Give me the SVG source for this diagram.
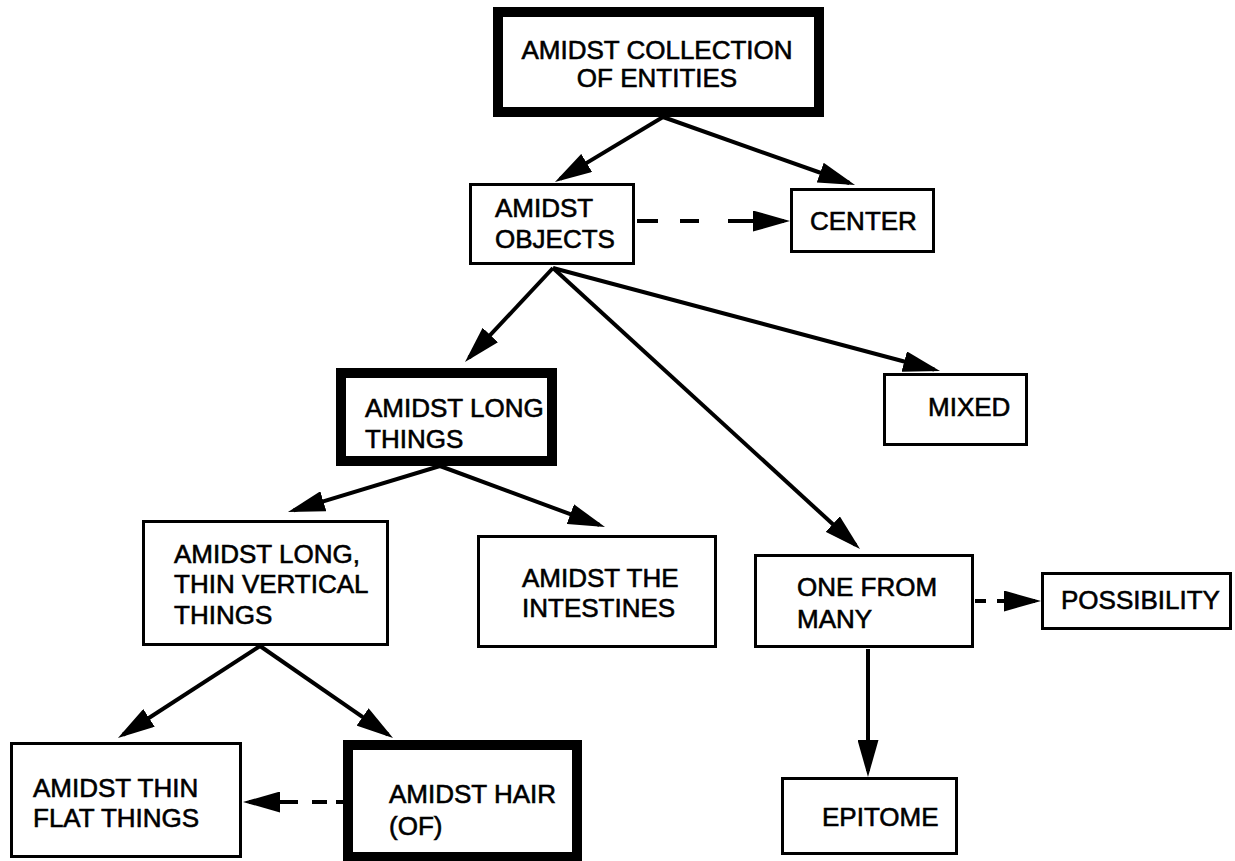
<svg xmlns="http://www.w3.org/2000/svg" width="1235" height="861" viewBox="0 0 1235 861">
<style>
  .box { fill: #fff; stroke: #000; stroke-width: 3; }
  .thick { fill: #fff; stroke: #000; stroke-width: 10; }
  .lbl { font-family: "Liberation Sans", Arial, Helvetica, sans-serif; font-size: 26px; fill: #000; stroke: #000; stroke-width: 0.6; }
  .mid { text-anchor: middle; }
  .edge { fill: none; stroke: #000; stroke-width: 4; marker-end: url(#arrow); }
</style>
<defs>
  <marker id="arrow" viewBox="0 0 37 21" refX="31" refY="10.5" markerWidth="37" markerHeight="21" markerUnits="userSpaceOnUse" orient="auto">
    <path d="M0,0 L37,10.5 L0,21 Z" fill="#000"/>
  </marker>
</defs>
<rect width="1235" height="861" fill="#fff"/>

<g id="connectors">
  <path class="edge" d="M663,117 L560.1,178.9"/>
  <path class="edge" d="M663,117 L849.4,183"/>
  <path class="edge" d="M637,221 H658 M680,221 H699 M728,221 H784"/>
  <path class="edge" d="M553,268 L469.1,357.6"/>
  <path class="edge" d="M553,268 L934.2,369.5"/>
  <path class="edge" d="M553,268 L855.6,545"/>
  <path class="edge" d="M440,466 L293.7,510.3"/>
  <path class="edge" d="M440,466 L599.4,524.9"/>
  <path class="edge" d="M260,646 L123,734.7"/>
  <path class="edge" d="M260,646 L388.1,734.6"/>
  <path class="edge" d="M868,649 L868,771"/>
  <path class="edge" d="M975,601 H986 M997,601 H1035"/>
  <path class="edge" d="M343,802 H336 M327,802 H312 M298,802 H249"/>
</g>

<g id="n-collection">
  <rect class="thick" x="498" y="12" width="321" height="100"/>
  <text class="lbl mid" x="657" y="59">AMIDST COLLECTION</text>
  <text class="lbl mid" x="657" y="87">OF ENTITIES</text>
</g>
<g id="n-objects">
  <rect class="box" x="470.5" y="184.5" width="163" height="79"/>
  <text class="lbl" x="495" y="217">AMIDST</text>
  <text class="lbl" x="495" y="248">OBJECTS</text>
</g>
<g id="n-center">
  <rect class="box" x="791.5" y="189.5" width="142" height="62"/>
  <text class="lbl" x="810" y="230">CENTER</text>
</g>
<g id="n-long">
  <rect class="thick" x="341" y="373" width="211" height="88"/>
  <text class="lbl" x="365" y="417">AMIDST LONG</text>
  <text class="lbl" x="365" y="448">THINGS</text>
</g>
<g id="n-mixed">
  <rect class="box" x="884.5" y="374.5" width="142" height="70"/>
  <text class="lbl" x="928" y="416">MIXED</text>
</g>
<g id="n-vertical">
  <rect class="box" x="143.5" y="521.5" width="244" height="123"/>
  <text class="lbl" x="174" y="563">AMIDST LONG,</text>
  <text class="lbl" x="174" y="593">THIN VERTICAL</text>
  <text class="lbl" x="174" y="624">THINGS</text>
</g>
<g id="n-intestines">
  <rect class="box" x="478.5" y="536.5" width="237" height="110"/>
  <text class="lbl" x="522" y="587">AMIDST THE</text>
  <text class="lbl" x="522" y="617">INTESTINES</text>
</g>
<g id="n-onefrommany">
  <rect class="box" x="755.5" y="555.5" width="217" height="91"/>
  <text class="lbl" x="797" y="596">ONE FROM</text>
  <text class="lbl" x="797" y="628">MANY</text>
</g>
<g id="n-possibility">
  <rect class="box" x="1042.5" y="573.5" width="188" height="55"/>
  <text class="lbl" x="1061" y="609">POSSIBILITY</text>
</g>
<g id="n-thinflat">
  <rect class="box" x="11.5" y="743.5" width="229" height="113"/>
  <text class="lbl" x="33" y="797">AMIDST THIN</text>
  <text class="lbl" x="33" y="827">FLAT THINGS</text>
</g>
<g id="n-hair">
  <rect class="thick" x="348" y="745" width="229" height="112"/>
  <text class="lbl" x="389" y="803">AMIDST HAIR</text>
  <text class="lbl" x="389" y="835">(OF)</text>
</g>
<g id="n-epitome">
  <rect class="box" x="782.5" y="778.5" width="174" height="75"/>
  <text class="lbl" x="822" y="826">EPITOME</text>
</g>
</svg>
